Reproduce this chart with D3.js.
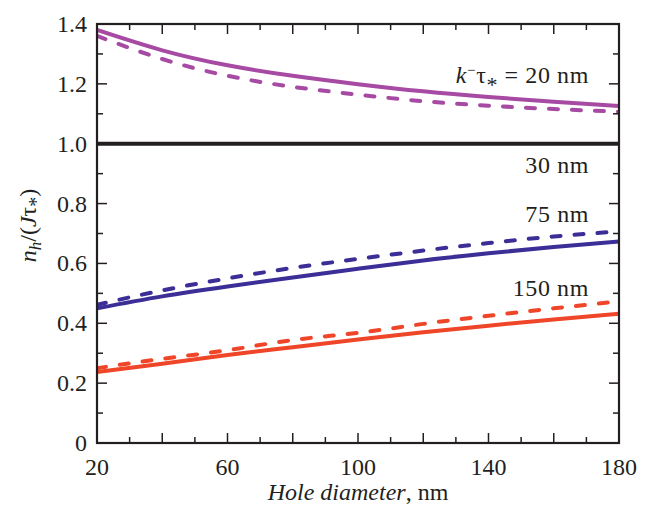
<!DOCTYPE html>
<meta charset="utf-8">
<style>
body { margin: 0; background: #fff; }
text { font-family: "Liberation Serif", "Nimbus Roman", "FreeSerif", "Times", serif; fill: #231f20; }
.curve { fill: none; stroke-width: 4px; }
.dashed { stroke-dasharray: 9,14; stroke-linecap: round; }
</style>
<body>
<script src="https://d3js.org/d3.v7.min.js"></script>
<script>

// hole diameters (nm) where curves were read
var diam = [20, 40, 60, 80, 100, 120, 140, 160, 180];

// k-tau = 20 nm (purple)
var purpleSolid  = [1.380, 1.312, 1.262, 1.227, 1.199, 1.175, 1.156, 1.140, 1.126];
var purpleDashed = [1.360, 1.283, 1.227, 1.190, 1.164, 1.142, 1.127, 1.116, 1.107];
// 30 nm (black, flat)
var blackSolid   = [1.0, 1.0, 1.0, 1.0, 1.0, 1.0, 1.0, 1.0, 1.0];
// 75 nm (blue)
var blueSolid    = [0.450, 0.490, 0.523, 0.553, 0.582, 0.610, 0.634, 0.655, 0.673];
var blueDashed   = [0.462, 0.510, 0.550, 0.585, 0.615, 0.643, 0.668, 0.690, 0.707];
// 150 nm (red)
var redSolid     = [0.237, 0.265, 0.294, 0.320, 0.346, 0.370, 0.392, 0.413, 0.432];
var redDashed    = [0.250, 0.281, 0.310, 0.344, 0.368, 0.398, 0.425, 0.450, 0.473];

var xTickLabels = [20, 60, 100, 140, 180];
var yTickLabels = [0, 0.2, 0.4, 0.6, 0.8, 1.0, 1.2, 1.4];

var series = [
  {v: purpleSolid,  color: "#a64aa3", dashed: false},
  {v: purpleDashed, color: "#a64aa3", dashed: true},
  {v: blueSolid,    color: "#3b2e96", dashed: false},
  {v: blueDashed,   color: "#3b2e96", dashed: true},
  {v: redSolid,     color: "#ef4529", dashed: false},
  {v: redDashed,    color: "#ef4529", dashed: true}
];

var margin = {top: 24, right: 34, bottom: 66, left: 97},
    width = 653 - margin.left - margin.right,
    height = 509 - margin.top - margin.bottom;

var x = d3.scaleLinear().domain([20, 180]).range([0, width]);
var y = d3.scaleLinear().domain([0, 1.4]).range([height, 0]);

var svg = d3.select("body").append("svg")
    .attr("width", 653)
    .attr("height", 509)
  .append("g")
    .attr("transform", "translate(" + margin.left + "," + margin.top + ")");

svg.append("clipPath").attr("id", "clip")
  .append("rect").attr("width", width).attr("height", height);

var line = d3.line()
    .x(function(d, i) { return x(diam[i]); })
    .y(function(d) { return y(d); })
    .curve(d3.curveNatural);

// the flat 30 nm line
svg.append("path")
    .datum(blackSolid)
    .attr("class", "curve")
    .attr("stroke", "#231f20")
    .attr("stroke-width", 5)
    .attr("d", line);

series.forEach(function(s) {
  svg.append("path")
      .datum(s.v)
      .attr("class", "curve" + (s.dashed ? " dashed" : ""))
      .attr("stroke", s.color)
      .attr("clip-path", "url(#clip)")
      .attr("d", line);
});

// ticks, inward on all four sides
var xMinor = d3.range(20, 181, 10), yMinor = d3.range(0, 1.41, 0.1);
function tickLen(major) { return major ? 10 : 6; }

var ticks = svg.append("g").attr("stroke", "#231f20").attr("stroke-width", 1.5);
xMinor.forEach(function(d) {
  var L = tickLen(d % 20 === 0);
  ticks.append("line").attr("x1", x(d)).attr("x2", x(d)).attr("y1", height).attr("y2", height - L);
  ticks.append("line").attr("x1", x(d)).attr("x2", x(d)).attr("y1", 0).attr("y2", L);
});
yMinor.forEach(function(d) {
  var L = tickLen(Math.round(d * 10) % 2 === 0);
  ticks.append("line").attr("x1", 0).attr("x2", L).attr("y1", y(d)).attr("y2", y(d));
  ticks.append("line").attr("x1", width).attr("x2", width - L).attr("y1", y(d)).attr("y2", y(d));
});

svg.append("rect")
    .attr("width", width).attr("height", height)
    .attr("fill", "none").attr("stroke", "#231f20").attr("stroke-width", 2.2);

// tick labels
svg.selectAll(".xl").data(xTickLabels).enter().append("text")
    .attr("x", function(d) { return x(d); })
    .attr("y", height + 32)
    .attr("text-anchor", "middle")
    .style("font-size", "24px")
    .text(function(d) { return d; });

svg.selectAll(".yl").data(yTickLabels).enter().append("text")
    .attr("x", -10)
    .attr("y", function(d) { return y(d) + 8; })
    .attr("text-anchor", "end")
    .style("font-size", "24px")
    .text(function(d) { return d === 0 ? "0" : d.toFixed(1); });

// curve annotations
var ann = svg.append("g").style("font-size", "24px").style("letter-spacing", "0.6px").attr("text-anchor", "end");
var k = ann.append("text").attr("x", 492).attr("y", 59);
k.append("tspan").style("font-style", "italic").text("k");
k.append("tspan").attr("baseline-shift", "55%").style("font-size", "15px").text("\u2212");
k.append("tspan").text("\u03c4");
k.append("tspan").attr("baseline-shift", "-40%").style("font-size", "22px").text("*");
k.append("tspan").text(" = 20 nm");
ann.append("text").attr("x", 492).attr("y", 149).text("30 nm");
ann.append("text").attr("x", 492).attr("y", 198).text("75 nm");
ann.append("text").attr("x", 492).attr("y", 272).text("150 nm");

// axis titles
var xt = svg.append("text")
    .attr("x", width / 2).attr("y", height + 57)
    .attr("text-anchor", "middle")
    .style("font-size", "24px");
xt.append("tspan").style("font-style", "italic").text("Hole diameter");
xt.append("tspan").text(", nm");

var yt = svg.append("text")
    .attr("transform", "translate(-61," + (height / 2 - 8) + ") rotate(-90)")
    .attr("text-anchor", "middle")
    .style("font-size", "24px");
yt.append("tspan").style("font-style", "italic").text("n");
yt.append("tspan").style("font-style", "italic").attr("baseline-shift", "-30%").style("font-size", "17px").text("h");
yt.append("tspan").text("/(");
yt.append("tspan").style("font-style", "italic").text("J");
yt.append("tspan").text("\u03c4");
yt.append("tspan").attr("baseline-shift", "-35%").style("font-size", "20px").text("*");
yt.append("tspan").text(")");

</script>
</body>
